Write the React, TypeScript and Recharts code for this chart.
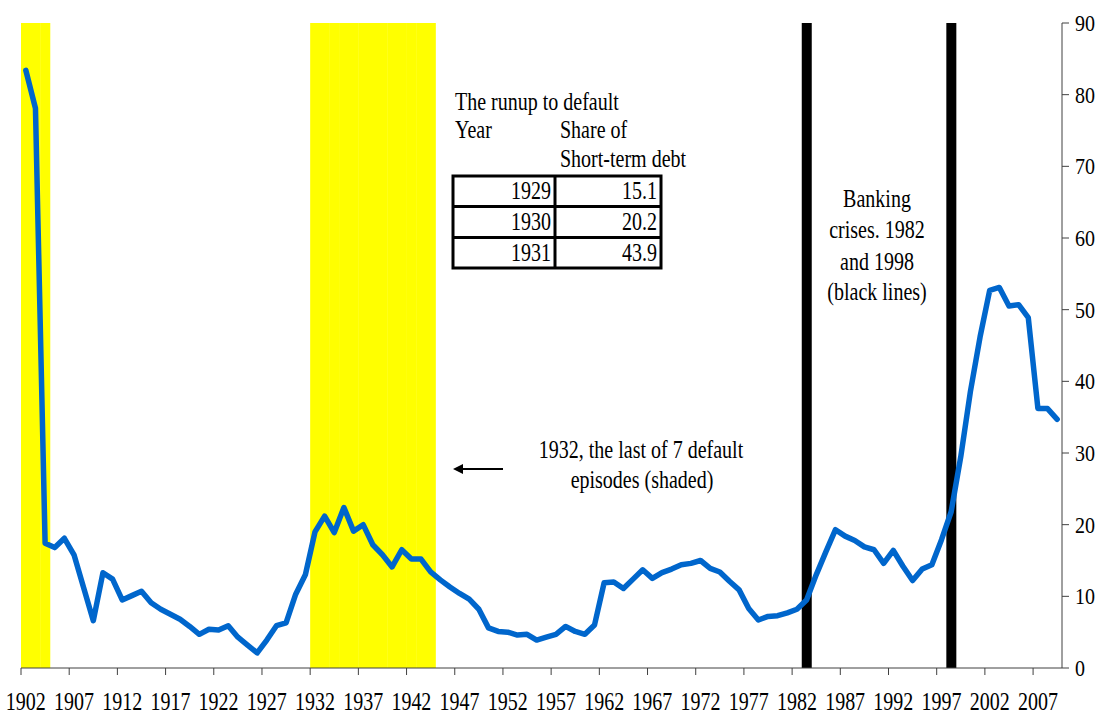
import React from 'react';
import { ComposedChart, Line, Bar, XAxis, YAxis, Cell, Customized } from 'recharts';

const years = [
  1902, 1903, 1904, 1905, 1906, 1907, 1908, 1909, 1910, 1911,
  1912, 1913, 1914, 1915, 1916, 1917, 1918, 1919, 1920, 1921,
  1922, 1923, 1924, 1925, 1926, 1927, 1928, 1929, 1930, 1931,
  1932, 1933, 1934, 1935, 1936, 1937, 1938, 1939, 1940, 1941,
  1942, 1943, 1944, 1945, 1946, 1947, 1948, 1949, 1950, 1951,
  1952, 1953, 1954, 1955, 1956, 1957, 1958, 1959, 1960, 1961,
  1962, 1963, 1964, 1965, 1966, 1967, 1968, 1969, 1970, 1971,
  1972, 1973, 1974, 1975, 1976, 1977, 1978, 1979, 1980, 1981,
  1982, 1983, 1984, 1985, 1986, 1987, 1988, 1989, 1990, 1991,
  1992, 1993, 1994, 1995, 1996, 1997, 1998, 1999, 2000, 2001,
  2002, 2003, 2004, 2005, 2006, 2007, 2008, 2009,
];

const shortTermShare = [
  83.4, 78.1, 17.4, 16.8, 18.1, 15.8, 11.2, 6.6, 13.3, 12.4,
  9.5, 10.1, 10.7, 9.1, 8.2, 7.5, 6.8, 5.8, 4.7, 5.4,
  5.3, 5.9, 4.3, 3.2, 2.1, 3.9, 5.9, 6.3, 10.3, 13.0,
  19.0, 21.2, 18.9, 22.4, 19.1, 20.0, 17.2, 15.8, 14.1, 16.5,
  15.2, 15.2, 13.4, 12.3, 11.3, 10.4, 9.6, 8.2, 5.6, 5.1,
  5.0, 4.6, 4.7, 3.9, 4.3, 4.7, 5.8, 5.1, 4.7, 6.0,
  11.9, 12.0, 11.1, 12.4, 13.7, 12.5, 13.3, 13.8, 14.4, 14.6,
  15.0, 13.9, 13.4, 12.1, 10.9, 8.3, 6.7, 7.2, 7.3, 7.7,
  8.2, 9.5, 13.0, 16.2, 19.3, 18.4, 17.8, 16.9, 16.5, 14.6,
  16.4, 14.2, 12.2, 13.8, 14.4, 17.9, 21.8, 29.5, 38.6, 46.2,
  52.7, 53.1, 50.5, 50.7, 48.9, 36.2, 36.2, 34.7,
];

const defaultYears = [1902, 1903, 1904, 1932, 1933, 1934, 1935, 1936, 1937, 1938, 1939, 1940, 1941, 1942, 1943, 1944];
const bankingCrisisYears = [1983, 1998];
const bandTop = 90;

const yTicks = [0, 10, 20, 30, 40, 50, 60, 70, 80, 90];

const tableTitle = 'The runup to default';
const tableYears = ['1929', '1930', '1931'];
const tableShares = ['15.1', '20.2', '43.9'];

const data = years.map((y, i) => ({
  year: y,
  share: shortTermShare[i],
  band: defaultYears.includes(y) || bankingCrisisYears.includes(y) ? bandTop : null,
  kind: defaultYears.includes(y) ? 'default' : bankingCrisisYears.includes(y) ? 'crisis' : 'none',
}));

const FONT = 'Liberation Serif, Times New Roman, Times, serif';
const AXIS = '#404040';

const ST = ({ x, y, anchor = 'start', sy = 1.28, size = 20, children }: any) => (
  <text
    transform={`translate(${x},${y}) scale(1,${sy})`}
    textAnchor={anchor}
    style={{ fontFamily: FONT, fontSize: size }}
    fill="#000"
  >
    {children}
  </text>
);

const XTick = (props: any) => {
  const { x, y, payload } = props;
  const off = payload && payload.offset != null ? payload.offset : 0;
  const axisY = y - 9;
  return (
    <g>
      <line x1={x - off} x2={x - off} y1={axisY} y2={axisY + 7} stroke={AXIS} strokeWidth={1} />
      <ST x={x} y={axisY + 42} anchor="middle" sy={1.25}>{payload.value}</ST>
    </g>
  );
};

const YTick = (props: any) => {
  const { x, y, payload } = props;
  return <ST x={x} y={y + 8} anchor="start" sy={1.15}>{payload.value}</ST>;
};

const Annotations = () => (
  <g>
    <ST x={455} y={110}>{tableTitle}</ST>
    <ST x={455} y={138}>Year</ST>
    <ST x={560} y={138}>Share of</ST>
    <ST x={560} y={167}>Short-term debt</ST>
    <rect x={453} y={176} width={208} height={92} fill="#fff" stroke="#000" strokeWidth={3} />
    <line x1={453} x2={661} y1={206.5} y2={206.5} stroke="#000" strokeWidth={3} />
    <line x1={453} x2={661} y1={237.5} y2={237.5} stroke="#000" strokeWidth={3} />
    <line x1={555} x2={555} y1={176} y2={268} stroke="#000" strokeWidth={3} />
    {tableYears.map((t, i) => (
      <ST key={'y' + t} x={551} y={199 + i * 31} anchor="end">{t}</ST>
    ))}
    {tableShares.map((t, i) => (
      <ST key={'s' + t} x={657} y={199 + i * 31} anchor="end">{t}</ST>
    ))}

    <ST x={641} y={458} anchor="middle">1932, the last of 7 default</ST>
    <ST x={642} y={488} anchor="middle">episodes (shaded)</ST>
    <line x1={461} x2={503} y1={469} y2={469} stroke="#000" strokeWidth={2} />
    <polygon points="453,469 463,464 463,474" fill="#000" />

    <ST x={877} y={207} anchor="middle">Banking</ST>
    <ST x={877} y={238} anchor="middle">crises. 1982</ST>
    <ST x={877} y={270} anchor="middle">and 1998</ST>
    <ST x={877} y={300} anchor="middle">(black lines)</ST>
  </g>
);

export default function App() {
  return (
    <div style={{ position: 'absolute', left: 0, top: 0, background: '#fff' }}>
      <ComposedChart
        width={1101}
        height={717}
        data={data}
        margin={{ top: 23, right: 0, bottom: 0, left: 21 }}
        barCategoryGap={0}
        barGap={0}
      >
        <XAxis
          dataKey="year"
          type="category"
          interval={4}
          height={49}
          tickSize={7}
          tickMargin={2}
          tickLine={false}
          axisLine={{ stroke: AXIS, strokeWidth: 1 }}
          tick={<XTick />}
        />
        <YAxis
          orientation="right"
          domain={[0, 90]}
          ticks={yTicks}
          width={39}
          tickSize={7}
          tickMargin={6}
          axisLine={{ stroke: AXIS, strokeWidth: 1 }}
          tickLine={{ stroke: AXIS, strokeWidth: 1 }}
          tick={<YTick />}
          interval={0}
        />
        <Bar dataKey="band" isAnimationActive={false}>
          {data.map((d, i) => (
            <Cell key={i} fill={d.kind === 'crisis' ? '#000000' : '#FFFF00'} />
          ))}
        </Bar>
        <Line
          type="linear"
          dataKey="share"
          stroke="#0066CC"
          strokeWidth={5.5}
          dot={false}
          strokeLinejoin="round"
          strokeLinecap="round"
          isAnimationActive={false}
        />
        <Customized component={Annotations} />
      </ComposedChart>
    </div>
  );
}
